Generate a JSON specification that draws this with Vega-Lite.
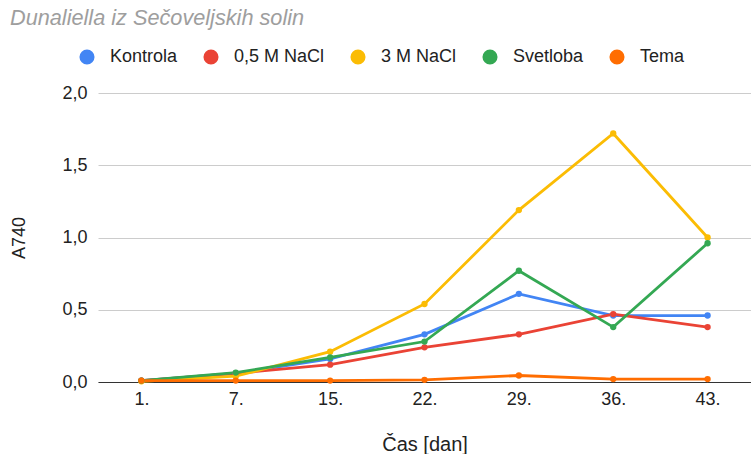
{
  "$schema": "https://vega.github.io/schema/vega-lite/v6.json",
  "width": 653,
  "height": 289,
  "autosize": {"type": "none"},
  "padding": {"left": 98, "top": 93, "right": 0, "bottom": 72},
  "background": "white",
  "title": {
    "text": "Dunaliella iz Sečoveljskih solin",
    "anchor": "start",
    "frame": "group",
    "dx": -88,
    "offset": 18,
    "font": "Liberation Sans",
    "fontSize": 21.7,
    "fontStyle": "italic",
    "fontWeight": "normal",
    "color": "#9e9e9e"
  },
  "data": {
    "values": [
      {"dan": "1.", "serija": "Kontrola", "A740": 0.01},
      {"dan": "7.", "serija": "Kontrola", "A740": 0.06},
      {"dan": "15.", "serija": "Kontrola", "A740": 0.16},
      {"dan": "22.", "serija": "Kontrola", "A740": 0.33},
      {"dan": "29.", "serija": "Kontrola", "A740": 0.61},
      {"dan": "36.", "serija": "Kontrola", "A740": 0.46},
      {"dan": "43.", "serija": "Kontrola", "A740": 0.46},
      {"dan": "1.", "serija": "0,5 M NaCl", "A740": 0.01},
      {"dan": "7.", "serija": "0,5 M NaCl", "A740": 0.06},
      {"dan": "15.", "serija": "0,5 M NaCl", "A740": 0.12},
      {"dan": "22.", "serija": "0,5 M NaCl", "A740": 0.24},
      {"dan": "29.", "serija": "0,5 M NaCl", "A740": 0.33},
      {"dan": "36.", "serija": "0,5 M NaCl", "A740": 0.47},
      {"dan": "43.", "serija": "0,5 M NaCl", "A740": 0.38},
      {"dan": "1.", "serija": "3 M NaCl", "A740": 0.005},
      {"dan": "7.", "serija": "3 M NaCl", "A740": 0.04},
      {"dan": "15.", "serija": "3 M NaCl", "A740": 0.21},
      {"dan": "22.", "serija": "3 M NaCl", "A740": 0.54},
      {"dan": "29.", "serija": "3 M NaCl", "A740": 1.19},
      {"dan": "36.", "serija": "3 M NaCl", "A740": 1.72},
      {"dan": "43.", "serija": "3 M NaCl", "A740": 1.0},
      {"dan": "1.", "serija": "Svetloba", "A740": 0.01},
      {"dan": "7.", "serija": "Svetloba", "A740": 0.065},
      {"dan": "15.", "serija": "Svetloba", "A740": 0.17},
      {"dan": "22.", "serija": "Svetloba", "A740": 0.28},
      {"dan": "29.", "serija": "Svetloba", "A740": 0.77},
      {"dan": "36.", "serija": "Svetloba", "A740": 0.38},
      {"dan": "43.", "serija": "Svetloba", "A740": 0.96},
      {"dan": "1.", "serija": "Tema", "A740": 0.01},
      {"dan": "7.", "serija": "Tema", "A740": 0.01},
      {"dan": "15.", "serija": "Tema", "A740": 0.01},
      {"dan": "22.", "serija": "Tema", "A740": 0.015},
      {"dan": "29.", "serija": "Tema", "A740": 0.045},
      {"dan": "36.", "serija": "Tema", "A740": 0.02},
      {"dan": "43.", "serija": "Tema", "A740": 0.02}
    ]
  },
  "encoding": {
    "x": {
      "field": "dan",
      "type": "ordinal",
      "sort": null,
      "scale": {"type": "point", "padding": 0.46},
      "axis": {
        "title": "Čas [dan]",
        "labelAngle": 0,
        "ticks": false,
        "grid": false,
        "domainColor": "#333333",
        "domainWidth": 1,
        "labelPadding": 8,
        "labelFontSize": 18,
        "labelColor": "#222222",
        "labelFont": "Liberation Sans",
        "titleFont": "Liberation Sans",
        "titleFontSize": 20,
        "titleFontWeight": "normal",
        "titleColor": "#222222",
        "titlePadding": 26
      }
    },
    "y": {
      "field": "A740",
      "type": "quantitative",
      "scale": {"domain": [0, 2], "nice": false},
      "axis": {
        "title": "A740",
        "values": [0, 0.5, 1, 1.5, 2],
        "labelExpr": "replace(format(datum.value, '.1f'), '.', ',')",
        "ticks": false,
        "domain": false,
        "gridColor": "#cccccc",
        "gridWidth": 1,
        "labelPadding": 11,
        "labelFontSize": 18,
        "labelColor": "#222222",
        "labelFont": "Liberation Sans",
        "titleFont": "Liberation Sans",
        "titleFontSize": 18,
        "titleFontWeight": "normal",
        "titleColor": "#222222",
        "titlePadding": 33
      }
    },
    "color": {
      "field": "serija",
      "type": "nominal",
      "scale": {
        "domain": ["Kontrola", "0,5 M NaCl", "3 M NaCl", "Svetloba", "Tema"],
        "range": ["#4285f4", "#ea4335", "#fbbc04", "#34a853", "#ff6d01"]
      },
      "legend": {
        "title": null,
        "orient": "none",
        "direction": "horizontal",
        "legendX": -20,
        "legendY": -45,
        "symbolType": "circle",
        "symbolSize": 227,
        "symbolStrokeWidth": 0,
        "labelFont": "Liberation Sans",
        "labelFontSize": 18,
        "labelColor": "#222222",
        "labelOffset": 14,
        "columnPadding": 24
      }
    }
  },
  "layer": [
    {
      "mark": {"type": "line", "strokeWidth": 2.8, "interpolate": "linear"}
    },
    {
      "mark": {"type": "point", "filled": true, "opacity": 1, "size": 40},
      "encoding": {
        "color": {"field": "serija", "type": "nominal", "legend": null}
      }
    }
  ],
  "config": {
    "view": {"stroke": null}
  }
}
